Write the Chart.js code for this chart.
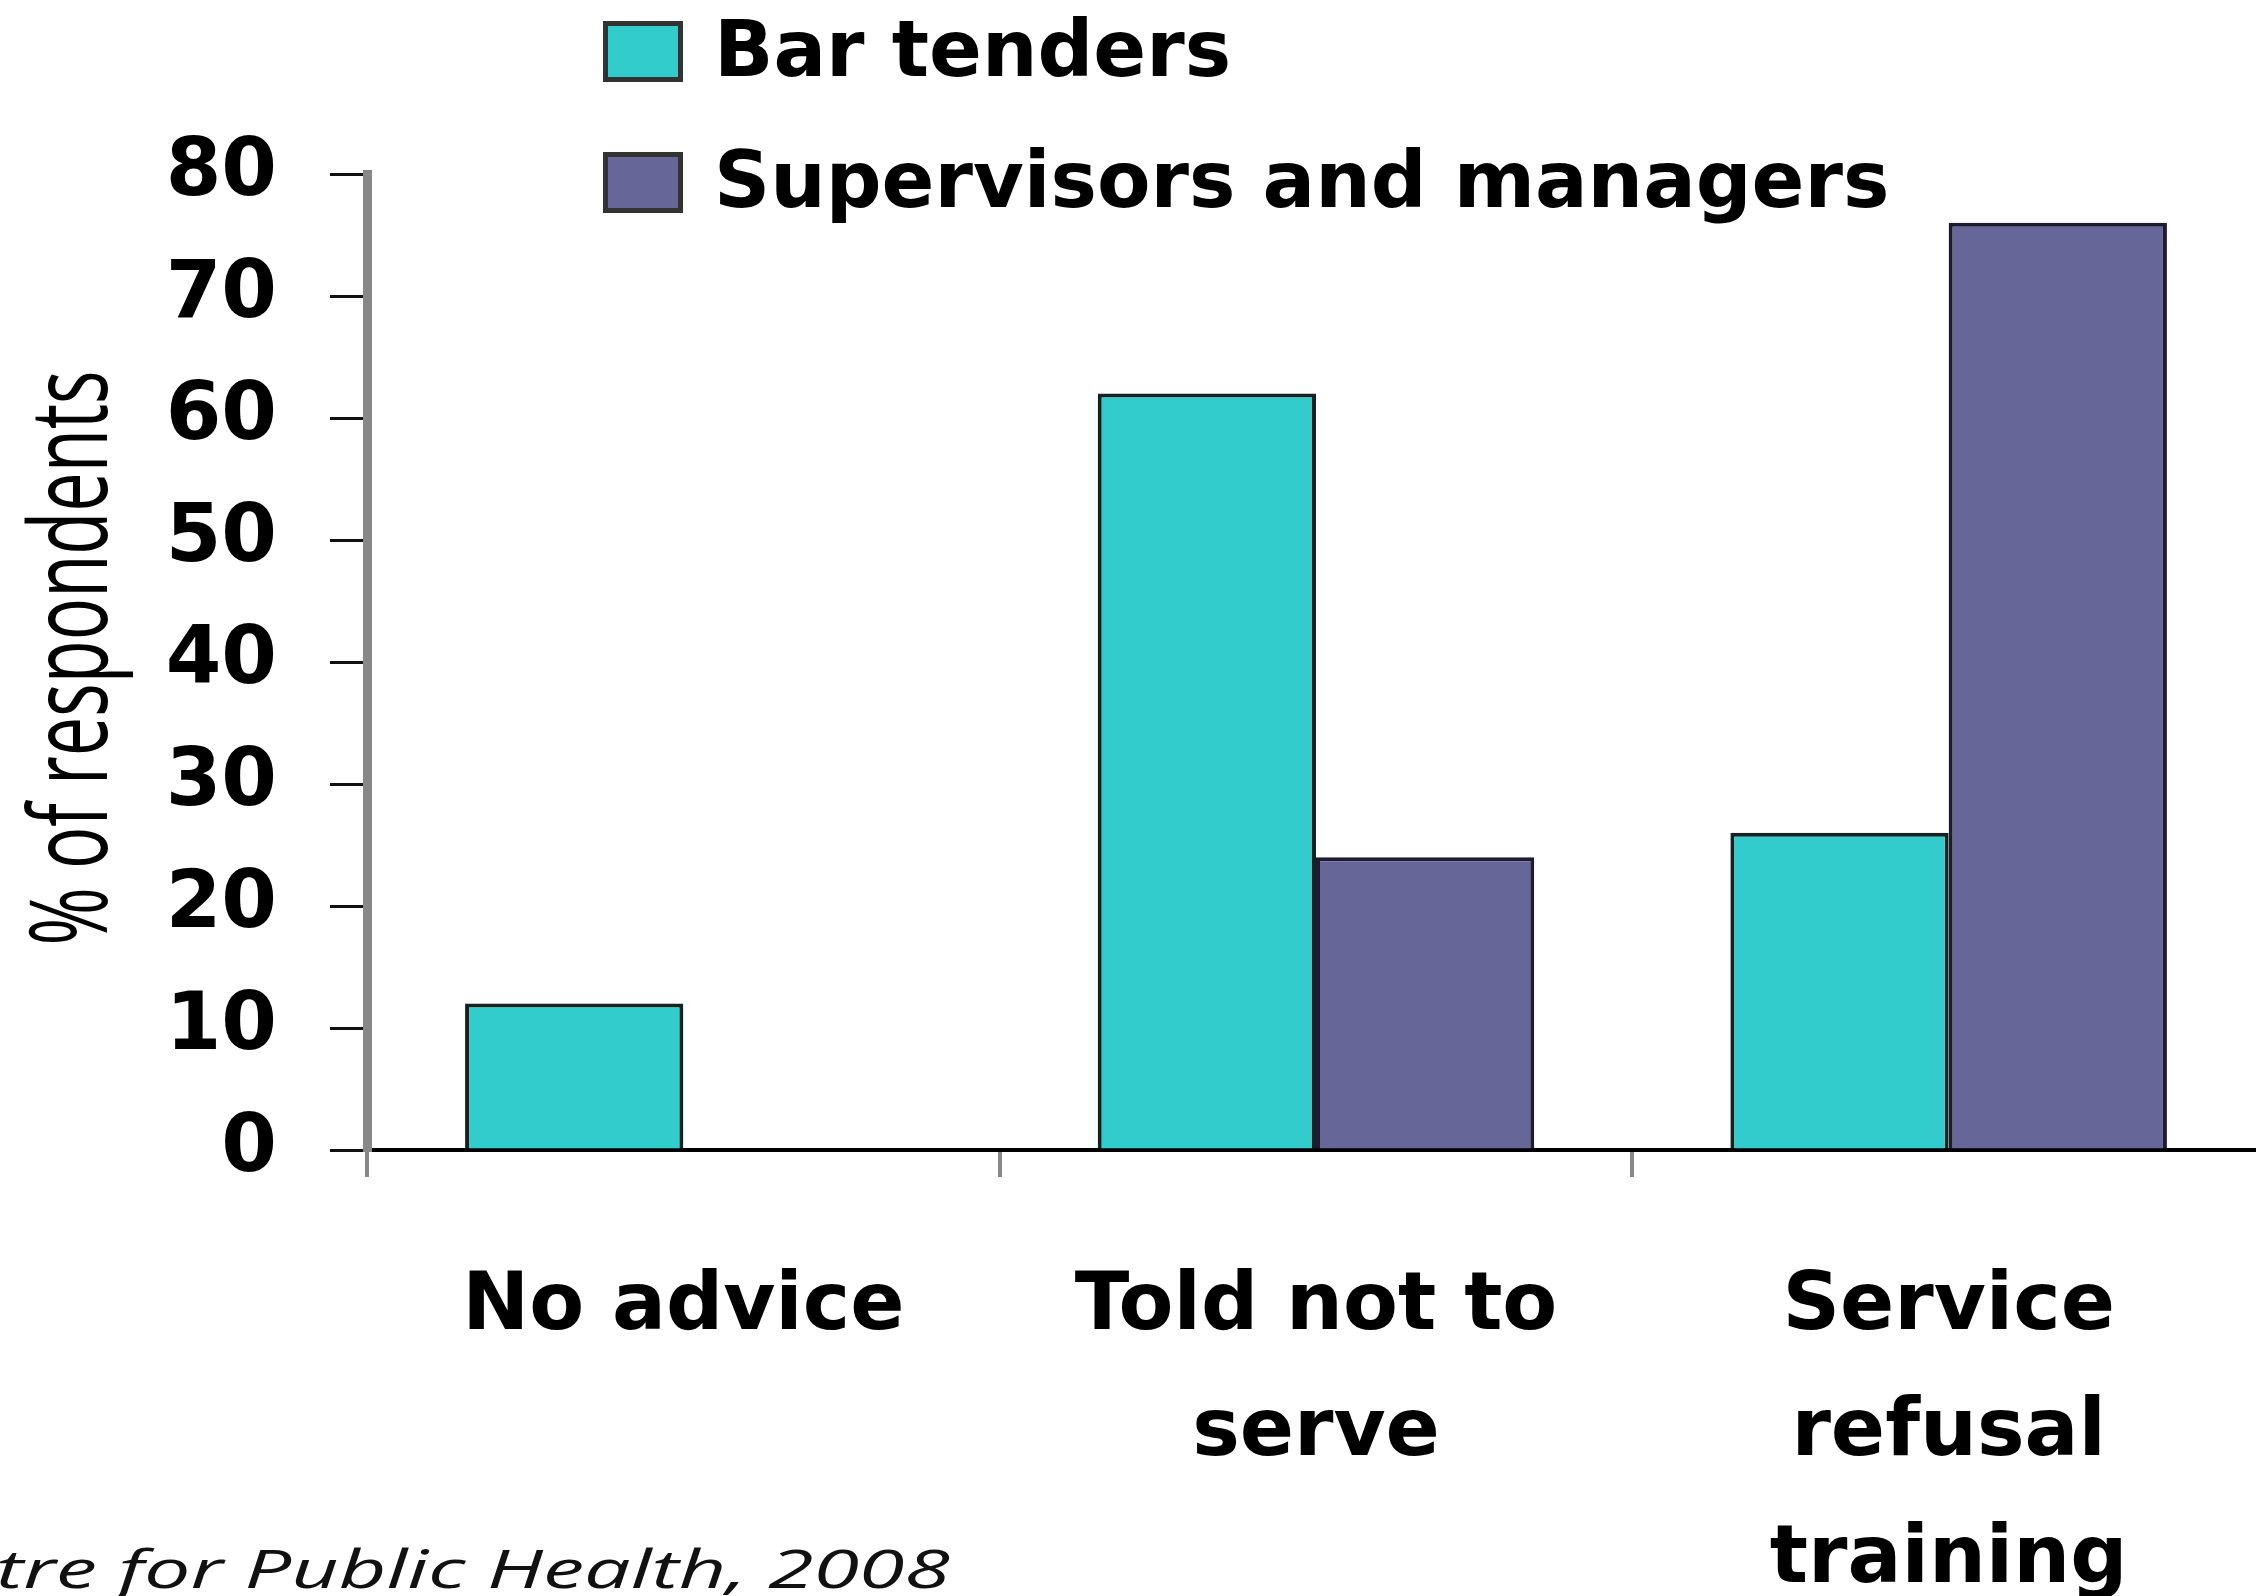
<!DOCTYPE html>
<html>
<head>
<meta charset="utf-8">
<script src="https://cdn.jsdelivr.net/npm/chart.js@4.4.1/dist/chart.umd.min.js"></script>
<style>
  html, body { margin: 0; padding: 0; background: #ffffff; overflow: hidden; width: 2256px; height: 1596px; }
  canvas { display: block; }
</style>
</head>
<body>
<canvas id="c" width="2265" height="1596"></canvas>
<script>
// ---- data ----
const categories = [["No advice"], ["Told not to", "serve"], ["Service", "refusal", "training"]];
const barTenders = [12, 62, 26];
const supervisorsManagers = [0, 24, 76];
const seriesLabels = ["Bar tenders", "Supervisors and managers"];
const seriesColors = ["#33CCCC", "#666699"];
const yTicksMin = 0;
const yTicksMax = 80;
const yTickStep = 10;
const yAxisTitle = "% of respondents";
const sourceText = "tre for Public Health, 2008";

// ---- custom legend / titles ----
const overlayText = {
  id: 'overlayText',
  afterDraw(chart) {
    const ctx = chart.ctx;
    // legend
    chart.data.datasets.forEach((ds, i) => {
      const cy = 51 + i * 131;
      ctx.save();
      ctx.fillStyle = ds.backgroundColor;
      ctx.fillRect(603, cy - 30, 80, 61);
      ctx.strokeStyle = '#333333';
      ctx.lineWidth = 5;
      ctx.strokeRect(605.5, cy - 27.5, 75, 56);
      ctx.fillStyle = '#000000';
      ctx.font = 'bold 78px "DejaVu Sans"';
      ctx.textBaseline = 'middle';
      ctx.textAlign = 'left';
      ctx.fillText(ds.label, 714, cy + 5);
      ctx.restore();
    });
    // y-axis title (rotated, condensed)
    ctx.save();
    ctx.font = '108px "Open Sans"';
    const w = ctx.measureText(yAxisTitle).width;
    ctx.translate(107, 658);
    ctx.rotate(-Math.PI / 2);
    ctx.scale(575 / w, 1);
    ctx.fillStyle = '#000000';
    ctx.textAlign = 'center';
    ctx.textBaseline = 'alphabetic';
    ctx.fillText(yAxisTitle, 0, 0);
    ctx.restore();
    // source note
    ctx.save();
    ctx.font = 'italic 53px "Open Sans"';
    const sw = ctx.measureText(sourceText).width;
    ctx.translate(-4, 1588);
    ctx.scale(954 / sw, 1);
    ctx.fillStyle = '#111111';
    ctx.textAlign = 'left';
    ctx.textBaseline = 'alphabetic';
    ctx.fillText(sourceText, 0, 0);
    ctx.restore();
  }
};

new Chart(document.getElementById('c'), {
  type: 'bar',
  data: {
    labels: categories,
    datasets: [
      {
        label: seriesLabels[0],
        data: barTenders,
        backgroundColor: seriesColors[0],
        borderColor: '#142222',
        borderWidth: 4,
        categoryPercentage: 0.69,
        barPercentage: 1.0
      },
      {
        label: seriesLabels[1],
        data: supervisorsManagers,
        backgroundColor: seriesColors[1],
        borderColor: '#1c1c30',
        borderWidth: 4,
        categoryPercentage: 0.69,
        barPercentage: 1.0
      }
    ]
  },
  options: {
    responsive: false,
    animation: false,
    devicePixelRatio: 1,
    layout: { padding: { top: 174, left: 0, right: 0, bottom: 0 } },
    plugins: {
      legend: { display: false },
      tooltip: { enabled: false },
      title: { display: false }
    },
    scales: {
      x: {
        z: 1,
        grid: { offset: true, drawOnChartArea: false, drawTicks: true, tickLength: 27, color: '#888888', lineWidth: 4 },
        border: { display: true, color: '#000000', width: 4 },
        ticks: {
          color: '#000000',
          font: { family: 'DejaVu Sans', weight: 'bold', size: 80, lineHeight: 1.58 },
          padding: 68,
          maxRotation: 0,
          minRotation: 0,
          autoSkip: false
        },
        afterFit(scale) { scale.height = 446; }
      },
      y: {
        min: yTicksMin,
        max: yTicksMax,
        grid: { drawOnChartArea: false, drawTicks: true, tickLength: 37, color: '#111111', lineWidth: 3 },
        border: { display: true, color: '#888888', width: 9 },
        ticks: {
          stepSize: yTickStep,
          color: '#000000',
          font: { family: 'DejaVu Sans', weight: 'bold', size: 80 },
          padding: 53
        },
        afterFit(scale) { scale.width = 367; }
      }
    }
  },
  plugins: [overlayText]
});
</script>
</body>
</html>
